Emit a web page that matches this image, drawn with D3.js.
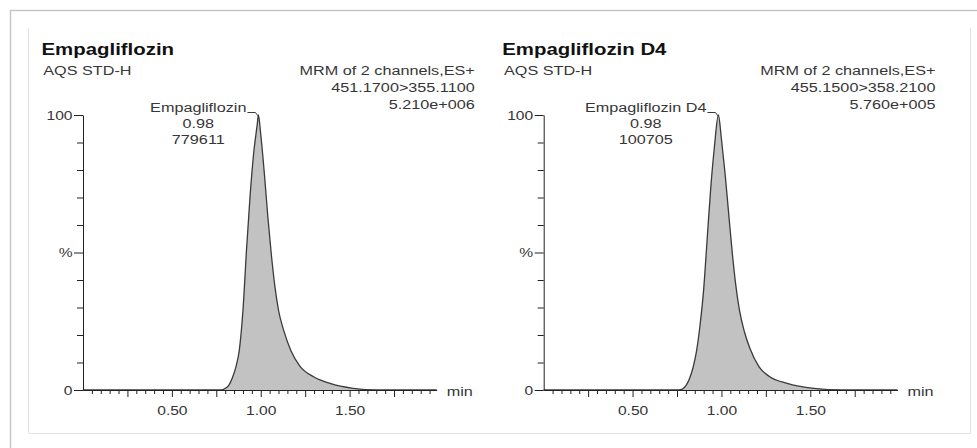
<!DOCTYPE html>
<html>
<head>
<meta charset="utf-8">
<script src="https://d3js.org/d3.v7.min.js"></script>
<style>
    body { margin: 0; background: #fff; }
    svg { display: block; font-family: "Liberation Sans", Arial, sans-serif; }
</style>
</head>
<body>
<svg id="chart" width="977" height="448"></svg>
<script>
    var compounds = ["Empagliflozin", "Empagliflozin D4"];
    var sampleIds = ["AQS STD-H", "AQS STD-H"];
    var scanInfo = ["MRM of 2 channels,ES+", "MRM of 2 channels,ES+"];
    var transitions = ["451.1700>355.1100", "455.1500>358.2100"];
    var maxCounts = ["5.210e+006", "5.760e+005"];
    var retTimes = ["0.98", "0.98"];
    var peakAreas = ["779611", "100705"];
    var apexTimes = [0.987, 0.983];

    // chromatogram traces, minutes vs % of max
    var timesA = [0, 0.78, 0.80, 0.82, 0.84, 0.86, 0.88, 0.90, 0.92, 0.94, 0.96, 0.98, 0.987, 1.00, 1.02, 1.04, 1.06, 1.08, 1.10, 1.13, 1.17, 1.22, 1.30, 1.39, 1.52, 1.65, 1.99];
    var percentA = [0, 0, 0.6, 1.7, 4.4, 8.3, 14.8, 29, 51, 70.5, 86, 96.4, 100, 93, 79, 63, 49, 37.5, 29, 21.5, 14.3, 8.7, 4.75, 2.4, 0.6, 0, 0];
    var timesB = [0, 0.76, 0.78, 0.80, 0.82, 0.84, 0.86, 0.88, 0.90, 0.92, 0.94, 0.96, 0.983, 1.00, 1.02, 1.04, 1.06, 1.08, 1.10, 1.13, 1.16, 1.21, 1.27, 1.37, 1.52, 1.68, 1.99];
    var percentB = [0, 0, 0.3, 1.6, 4.1, 8.1, 14.2, 23.8, 36.6, 55.2, 73.6, 88.1, 100, 91.2, 79, 64.7, 50.5, 38.5, 29.5, 21, 15.2, 8.6, 4.9, 2.4, 0.6, 0, 0];

    var xLabelTicks = [0.5, 1.0, 1.5];
    var yLabelTicks = [0, 50, 100];
    var yLabelText = ["0", "%", "100"];

    var traces = [d3.zip(timesA, percentA), d3.zip(timesB, percentB)];
    var panelShift = [0, 460.7];
    var SX = 1.2;   // screenshot text is stretched horizontally

    var svg = d3.select("#chart");

    // card frame
    svg.append("path")
        .attr("d", "M10.5,448V10.5H977")
        .attr("fill", "none").attr("stroke", "#c6c6c6").attr("stroke-width", 1.5);
    svg.append("path")
        .attr("d", "M28.5,28V433.5H970.5V28")
        .attr("fill", "none").attr("stroke", "#e2e2e2");

    var x = d3.scaleLinear().domain([0, 1.99]).range([83, 436.7]);
    var y = d3.scaleLinear().domain([0, 100]).range([390, 115]);

    function addText(parent, tx, ty, str, anchor, size, weight, color) {
        return parent.append("text")
            .attr("transform", "translate(" + tx + "," + ty + ") scale(" + SX + ",1)")
            .attr("text-anchor", anchor || "start")
            .attr("font-size", size || 13.5)
            .attr("font-weight", weight || "normal")
            .attr("fill", color || "#363636")
            .text(str);
    }

    function styleAxisText(sel) {
        sel.selectAll("text")
            .attr("font-family", "Liberation Sans, Arial, sans-serif")
            .attr("font-size", 13)
            .attr("fill", "#363636");
    }

    var area = d3.area()
        .x(function(d) { return x(d[0]); })
        .y0(y(0))
        .y1(function(d) { return y(d[1]); })
        .curve(d3.curveMonotoneX);

    var line = d3.line()
        .x(function(d) { return x(d[0]); })
        .y(function(d) { return y(d[1]); })
        .curve(d3.curveMonotoneX);

    compounds.forEach(function(name, i) {
        var g = svg.append("g").attr("transform", "translate(" + panelShift[i] + ",0)");

        // header
        addText(g, 41.5, 55, name, "start", 17, "bold", "#111");
        addText(g, 43.3, 75, sampleIds[i]);
        addText(g, 474.7, 75, scanInfo[i], "end");
        addText(g, 474.7, 92, transitions[i], "end");
        addText(g, 474.7, 109, maxCounts[i], "end");

        // peak
        g.append("path").datum(traces[i])
            .attr("d", area)
            .attr("fill", "#c2c2c2");
        g.append("path").datum(traces[i])
            .attr("d", line)
            .attr("fill", "none")
            .attr("stroke", "#3a3a3a")
            .attr("stroke-width", 1.3);

        // y axis
        var yMinor = g.append("g").attr("transform", "translate(" + x(0) + ",0)")
            .call(d3.axisLeft(y).tickValues([10, 20, 30, 40, 60, 70, 80, 90]).tickSize(6).tickFormat(""));
        yMinor.select(".domain").remove();
        var yMajor = g.append("g").attr("transform", "translate(" + x(0) + ",0)")
            .call(d3.axisLeft(y).tickValues(yLabelTicks).tickSize(9).tickSizeOuter(0)
                .tickFormat(function(d, k) { return yLabelText[k]; }));
        styleAxisText(yMajor);
        yMajor.selectAll("text").attr("x", 0).attr("transform", "translate(-10.5,0) scale(" + SX + ",1)");

        // x axis
        var minorVals = d3.range(1, 40).filter(function(k) { return k % 5 !== 0; })
            .map(function(k) { return k * 0.05; });
        var xMinor = g.append("g").attr("transform", "translate(0," + y(0) + ")")
            .call(d3.axisBottom(x).tickValues(minorVals).tickSize(4).tickFormat(""));
        xMinor.select(".domain").remove();
        var xMajor = g.append("g").attr("transform", "translate(0," + y(0) + ")")
            .call(d3.axisBottom(x).tickValues(d3.range(1, 8).map(function(k) { return k * 0.25; }))
                .tickSize(7).tickSizeOuter(0)
                .tickFormat(function(d) { return xLabelTicks.indexOf(d) >= 0 ? d3.format(".2f")(d) : ""; }));
        styleAxisText(xMajor);
        xMajor.selectAll("text").attr("y", 0).attr("dy", null)
            .attr("transform", "translate(0,25) scale(" + SX + ",1)");
        [yMinor, yMajor, xMinor, xMajor].forEach(function(a) { a.attr("color", "#222"); });

        addText(g, x.range()[1] + 10, 396, "min");

        // peak annotation
        var ax = x(apexTimes[i]);
        var endX = ax - 12;
        var nameT = addText(g, 0, 112, name, "middle");
        var w = nameT.node().getComputedTextLength() * SX;
        var cx = endX - w / 2;
        nameT.attr("transform", "translate(" + cx + ",112) scale(" + SX + ",1)");
        addText(g, cx, 128, retTimes[i], "middle");
        addText(g, cx, 144, peakAreas[i], "middle");
        g.append("path")
            .attr("d", "M" + (endX + 1) + ",112.5H" + (ax - 3) + "L" + ax + "," + (y(100) + 1.5))
            .attr("fill", "none")
            .attr("stroke", "#3a3a3a");
    });
</script>
</body>
</html>
